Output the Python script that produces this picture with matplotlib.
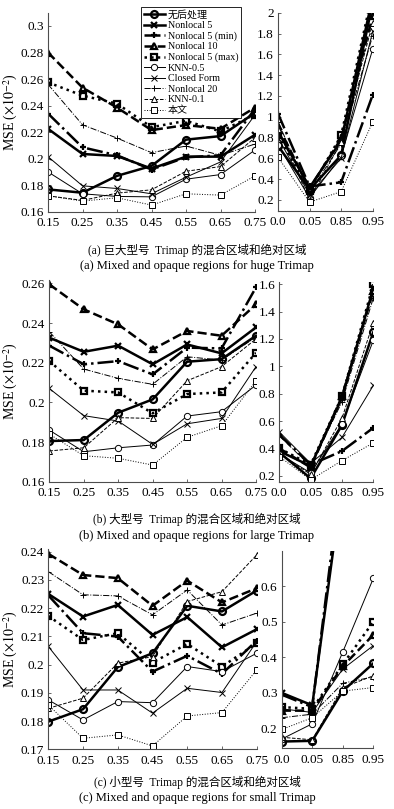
import matplotlib.pyplot as plt
import numpy as np

plt.rcParams['font.family'] = ['Liberation Serif', 'Noto Sans CJK SC']
plt.rcParams['mathtext.fontset'] = 'stix'

methods = ['无后处理', 'Nonlocal 5', 'Nonlocal 5 (min)', 'Nonlocal 10', 'Nonlocal 5 (max)',
           'KNN-0.5', 'Closed Form', 'Nonlocal 20', 'KNN-0.1', '本文']
mixed_x = [0.15, 0.25, 0.35, 0.45, 0.55, 0.65, 0.75]
opaque_labels = ['0.0', '0.05', '0.85', '0.95']

# mixed region (left panels), rows follow `methods`
huge_mixed = [
    [0.1768, 0.1743, 0.187, 0.1945, 0.2143, 0.217, 0.2345],
    [0.2225, 0.2035, 0.202, 0.1925, 0.2015, 0.2015, 0.218],
    [0.234, 0.2085, 0.2025, 0.1918, 0.201, 0.2025, 0.2375],
    [0.280, 0.2535, 0.2385, 0.2215, 0.2253, 0.2225, 0.2385],
    [0.2575, 0.2475, 0.2415, 0.2237, 0.2285, 0.2205, 0.2332],
    [0.1900, 0.1735, 0.1715, 0.1712, 0.1845, 0.188, 0.2065],
    [0.2015, 0.1795, 0.1775, 0.1735, 0.186, 0.1975, 0.233],
    [0.2560, 0.2255, 0.2155, 0.2045, 0.2095, 0.2025, 0.211],
    [0.172, 0.1685, 0.174, 0.1765, 0.1905, 0.194, 0.2158],
    [0.172, 0.168, 0.1705, 0.165, 0.1735, 0.1725, 0.187],
]
large_mixed = [
    [0.1805, 0.181, 0.1948, 0.2015, 0.2205, 0.2218, 0.2336],
    [0.2326, 0.2255, 0.2286, 0.2192, 0.2292, 0.2247, 0.2378],
    [0.2286, 0.2192, 0.2208, 0.2141, 0.2276, 0.2272, 0.258],
    [0.2595, 0.2469, 0.2393, 0.2267, 0.236, 0.2336, 0.2494],
    [0.2208, 0.2059, 0.205, 0.1945, 0.2042, 0.205, 0.225],
    [0.186, 0.1751, 0.1771, 0.1785, 0.1931, 0.1953, 0.2087],
    [0.207, 0.1933, 0.1906, 0.1788, 0.1892, 0.1919, 0.218],
    [0.2356, 0.2168, 0.2121, 0.2091, 0.223, 0.2213, 0.233],
    [0.1755, 0.1771, 0.1923, 0.1919, 0.2109, 0.218, 0.232],
    [0.184, 0.1731, 0.1718, 0.1684, 0.1824, 0.1882, 0.2108],
]
small_mixed = [
    [0.1798, 0.1842, 0.1991, 0.204, 0.2208, 0.2188, 0.2262],
    [0.225, 0.217, 0.2211, 0.2105, 0.2168, 0.2061, 0.2125],
    [0.2245, 0.2111, 0.2099, 0.1975, 0.2031, 0.1967, 0.2085],
    [0.2392, 0.2317, 0.2306, 0.2208, 0.2297, 0.222, 0.227],
    [0.2172, 0.2087, 0.2111, 0.2007, 0.2073, 0.1993, 0.2075],
    [0.1875, 0.1804, 0.1869, 0.1865, 0.1993, 0.1975, 0.204],
    [0.2064, 0.191, 0.191, 0.1828, 0.1916, 0.1901, 0.2081],
    [0.2329, 0.2247, 0.2243, 0.2176, 0.2264, 0.214, 0.2182],
    [0.1845, 0.1881, 0.2005, 0.2028, 0.2223, 0.2258, 0.2388],
    [0.1857, 0.1739, 0.1751, 0.1712, 0.1818, 0.183, 0.1981],
]

# opaque region (right panels)
huge_opaque = [
    [0.72, 0.30, 0.63, 2.10],
    [0.86, 0.32, 0.77, 2.15],
    [1.03, 0.33, 0.37, 1.21],
    [0.91, 0.31, 0.79, 1.97],
    [0.82, 0.29, 0.82, 2.20],
    [0.73, 0.22, 0.62, 1.65],
    [0.80, 0.25, 0.60, 1.82],
    [0.95, 0.27, 0.74, 1.78],
    [0.88, 0.20, 0.76, 1.90],
    [0.61, 0.18, 0.28, 0.95],
]
large_opaque = [
    [0.37, 0.18, 0.57, 1.25],
    [0.38, 0.27, 0.77, 1.57],
    [0.50, 0.28, 0.38, 0.55],
    [0.40, 0.26, 0.78, 1.55],
    [0.40, 0.28, 0.78, 1.60],
    [0.36, 0.22, 0.58, 1.19],
    [0.52, 0.29, 0.48, 0.86],
    [0.49, 0.27, 0.74, 1.50],
    [0.36, 0.21, 0.62, 1.32],
    [0.34, 0.17, 0.31, 0.44],
]
small_opaque = [
    [0.163, 0.165, 0.305, 0.383],
    [0.30, 0.265, 0.90, 1.00],
    [0.295, 0.26, 0.95, 1.05],
    [0.25, 0.25, 0.375, 0.463],
    [0.26, 0.255, 0.38, 0.50],
    [0.17, 0.213, 0.415, 0.622],
    [0.255, 0.245, 0.367, 0.433],
    [0.23, 0.24, 0.327, 0.345],
    [0.175, 0.168, 0.315, 0.348],
    [0.197, 0.23, 0.305, 0.315],
]

captions = [
    ('(a) 巨大型号  Trimap 的混合区域和绝对区域', '(a) Mixed and opaque regions for huge Trimap'),
    ('(b) 大型号  Trimap 的混合区域和绝对区域', '(b) Mixed and opaque regions for large Trimap'),
    ('(c) 小型号  Trimap 的混合区域和绝对区域', '(c) Mixed and opaque regions for small Trimap'),
]

lines = ['-', '-', '-.', '--', ':', '-', '-', '-.', '--', ':']
marks = ['o', 'x', '+', '^', 's', 'o', 'x', '+', '^', 's']

W, H = 394, 809
fig = plt.figure(figsize=(W / 100, H / 100), dpi=100)


def box(x0, x1, y0, y1):
    return [x0 / W, 1 - y1 / H, (x1 - x0) / W, (y1 - y0) / H]


def draw(ax, x, table):
    hs = []
    for i, row in enumerate(table):
        thick = i < 5
        h, = ax.plot(x, row, ls=lines[i], marker=marks[i], color='black',
                     lw=1.8 if thick else 0.7,
                     ms=5 if thick else 4.5,
                     mew=1.6 if thick else 0.7,
                     mfc='none' if thick else 'white')
        hs.append(h)
    for s in ['top', 'right']:
        ax.spines[s].set_visible(False)
    for s in ['left', 'bottom']:
        ax.spines[s].set_linewidth(0.8)
        ax.spines[s].set_color('0.3')
    ax.tick_params(direction='in', length=2, width=0.6, color='0.3', labelsize=9.5)
    ax.tick_params(axis='x', pad=4)
    ax.tick_params(axis='y', pad=3)
    return hs


panels = [
    (huge_mixed, huge_opaque, (48, 255, 12.7, 211.7), (0.16, 0.31), np.arange(0.16, 0.301, 0.02),
     (278, 372.7, 12.7, 210.7), (0.097, 2.0), np.arange(0.2, 2.01, 0.2)),
    (large_mixed, large_opaque, (49.3, 256, 280, 481.7), (0.16, 0.2617), np.arange(0.16, 0.261, 0.02),
     (279.3, 373.3, 282, 481.7), (0.156, 1.617), np.arange(0.2, 1.61, 0.2)),
    (small_mixed, small_opaque, (48.3, 256.7, 549.3, 749.3), (0.17, 0.2408), np.arange(0.17, 0.241, 0.01),
     (281.7, 373.3, 550.7, 748.3), (0.144, 0.7), np.arange(0.2, 0.61, 0.1)),
]

cap_y = [(250, 266), (519, 536), (782, 798)]

for k, (mix, opq, lb, lyl, lyt, rb, ryl, ryt) in enumerate(panels):
    axl = fig.add_axes(box(*lb))
    hs = draw(axl, mixed_x, mix)
    axl.set_xlim(0.15, 0.75)
    axl.set_ylim(*lyl)
    axl.set_xticks(mixed_x)
    axl.set_xticklabels([f'{v:.2f}' for v in mixed_x])
    axl.set_yticks(lyt)
    axl.set_yticklabels([f'{v:g}' for v in np.round(lyt, 2)])
    axl.set_ylabel(r'MSE ($\times10^{-2}$)', fontsize=10)
    axl.yaxis.set_label_coords((20 - lb[0]) / (lb[1] - lb[0]), 0.5)

    axr = fig.add_axes(box(*rb))
    draw(axr, range(4), opq)
    axr.set_xlim(0, 3)
    axr.set_ylim(*ryl)
    axr.set_xticks(range(4))
    axr.set_xticklabels(opaque_labels)
    axr.set_yticks(ryt)
    axr.set_yticklabels([f'{v:g}' for v in np.round(ryt, 2)])

    zh, en = captions[k]
    fig.text(197 / W, 1 - cap_y[k][0] / H, zh, ha='center', va='center', fontsize=8.3)
    fig.text(197 / W, 1 - cap_y[k][1] / H, en, ha='center', va='center', fontsize=9)

    if k == 0:
        leg = fig.legend(hs, methods, loc='upper left', bbox_to_anchor=(140.7 / W, 1 - 7 / H),
                         fontsize=7.2, labelspacing=0.14, handlelength=2.1, handletextpad=0.35,
                         borderpad=0.28, borderaxespad=0, fancybox=False, framealpha=1)
        leg.get_frame().set_edgecolor('black')
        leg.get_frame().set_linewidth(0.6)

fig.savefig('out.png', dpi=100)
